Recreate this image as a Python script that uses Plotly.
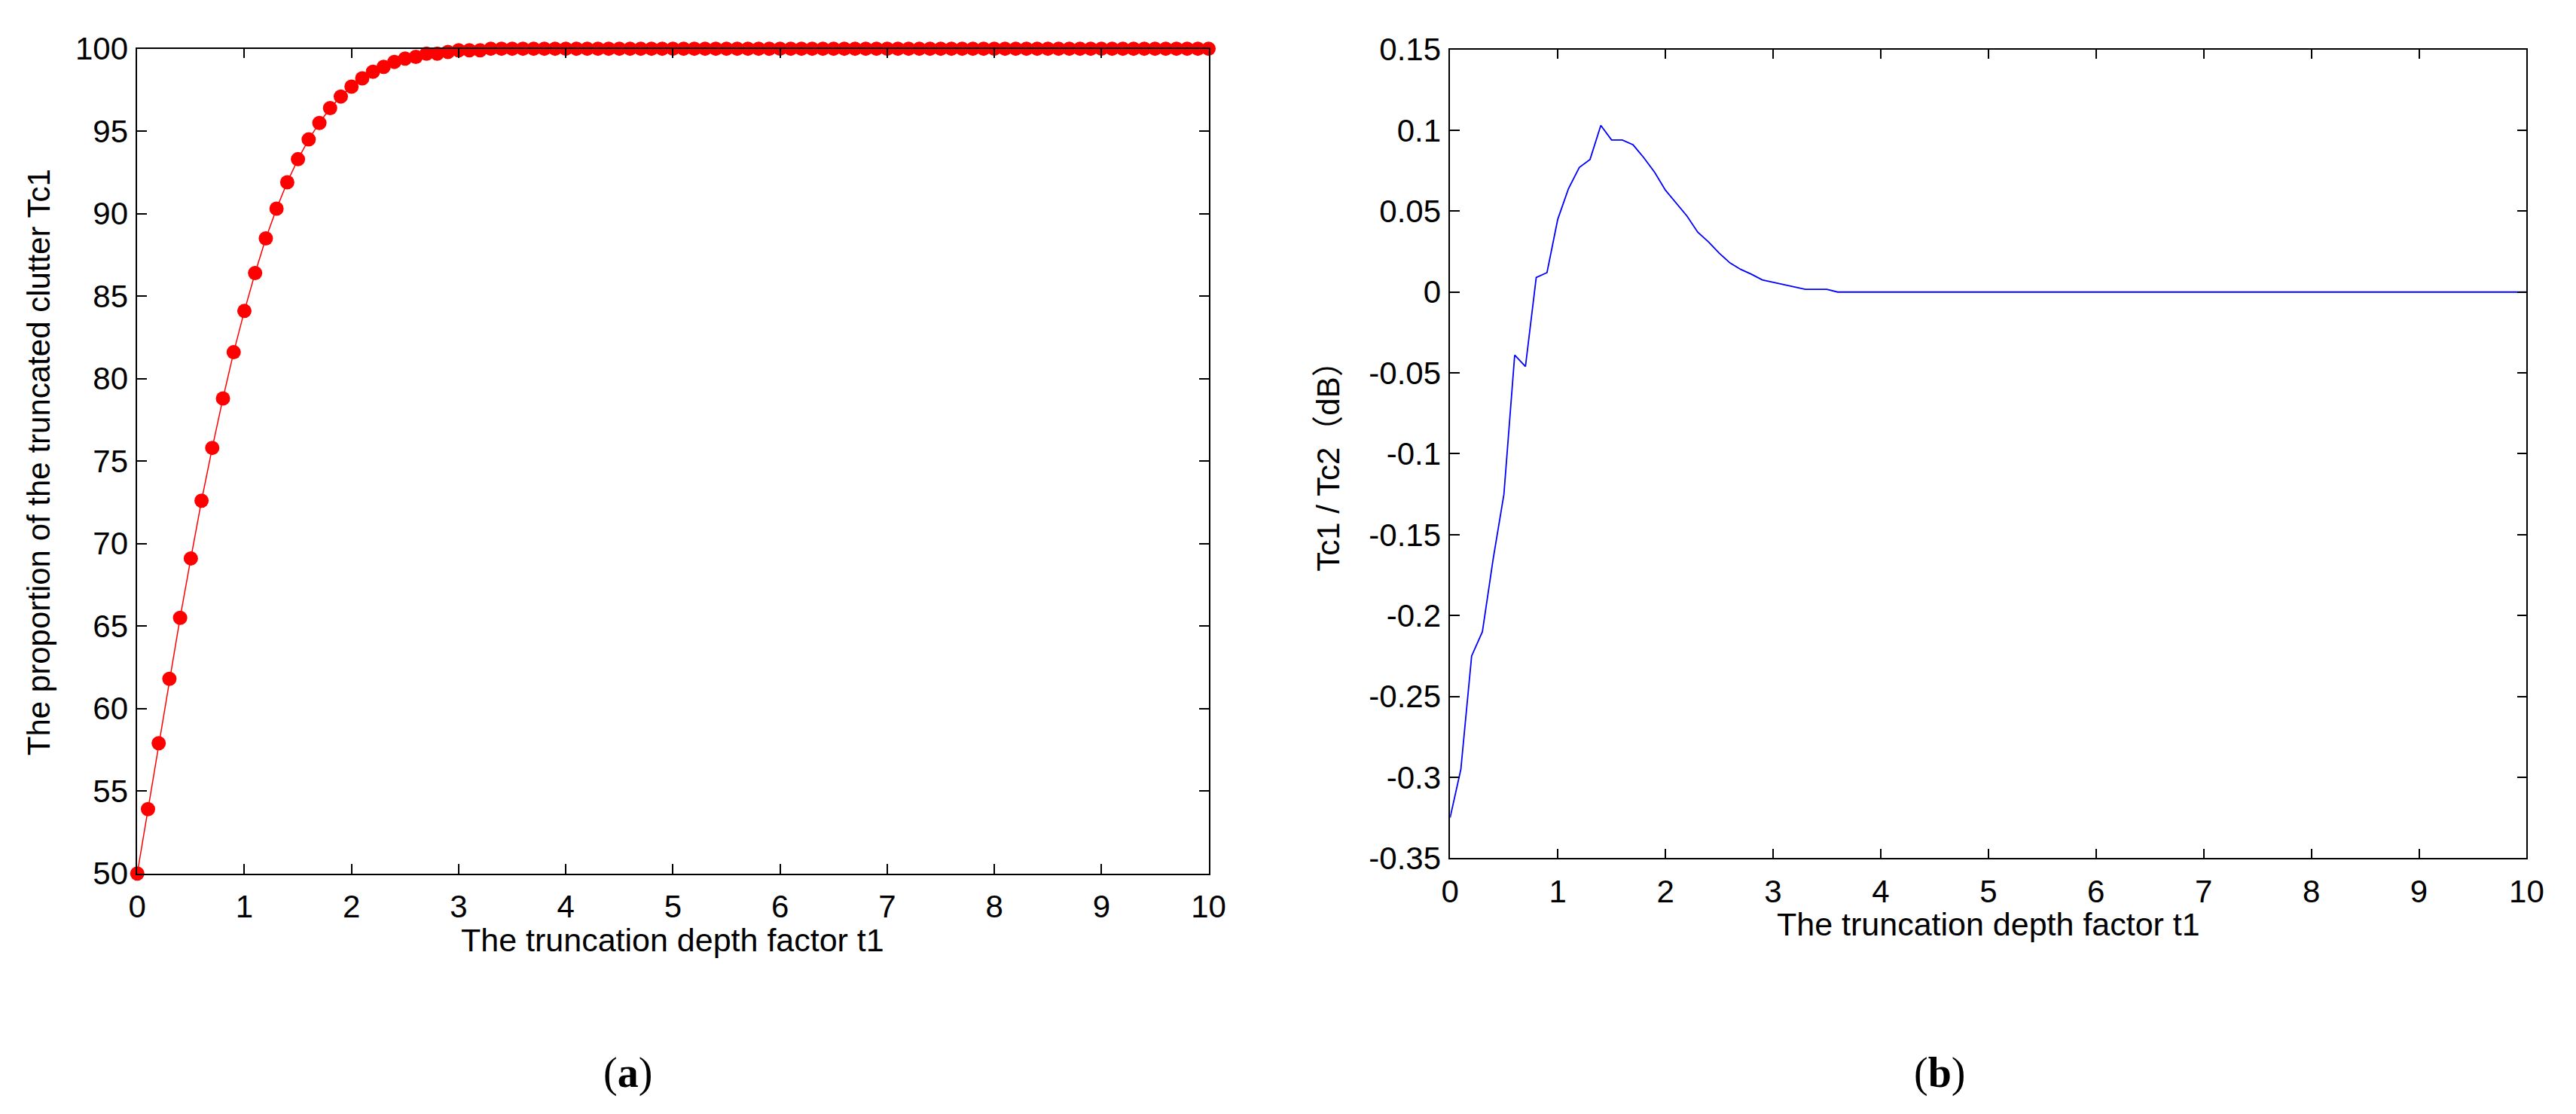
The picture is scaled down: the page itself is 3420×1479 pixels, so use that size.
import plotly.graph_objects as go

# ---------------- data ----------------
t_values = [round(0.1 * i, 1) for i in range(101)]

tc1_proportion = [
    50.0, 53.9, 57.9, 61.8, 65.5, 69.1, 72.6, 75.8, 78.8, 81.6,
    84.1, 86.4, 88.5, 90.3, 91.9, 93.3, 94.5, 95.5, 96.4, 97.1,
    97.7, 98.2, 98.6, 98.9, 99.2, 99.4, 99.5, 99.7, 99.7, 99.8,
    99.9, 99.9, 99.9, 100.0, 100.0, 100.0, 100.0, 100.0, 100.0, 100.0,
    100.0, 100.0, 100.0, 100.0, 100.0, 100.0, 100.0, 100.0, 100.0, 100.0,
    100.0, 100.0, 100.0, 100.0, 100.0, 100.0, 100.0, 100.0, 100.0, 100.0,
    100.0, 100.0, 100.0, 100.0, 100.0, 100.0, 100.0, 100.0, 100.0, 100.0,
    100.0, 100.0, 100.0, 100.0, 100.0, 100.0, 100.0, 100.0, 100.0, 100.0,
    100.0, 100.0, 100.0, 100.0, 100.0, 100.0, 100.0, 100.0, 100.0, 100.0,
    100.0, 100.0, 100.0, 100.0, 100.0, 100.0, 100.0, 100.0, 100.0, 100.0,
    100.0,
]

tc_ratio_db = [
    -0.325, -0.295, -0.225, -0.210, -0.165, -0.125, -0.039, -0.046, 0.009, 0.012,
    0.045, 0.064, 0.077, 0.082, 0.103, 0.094, 0.094, 0.091, 0.083, 0.074,
    0.063, 0.055, 0.047, 0.037, 0.031, 0.024, 0.018, 0.014, 0.011, 0.0075,
    0.006, 0.0045, 0.003, 0.0017, 0.0017, 0.0017, 0.0, 0.0, 0.0, 0.0,
    0.0, 0.0, 0.0, 0.0, 0.0, 0.0, 0.0, 0.0, 0.0, 0.0,
    0.0, 0.0, 0.0, 0.0, 0.0, 0.0, 0.0, 0.0, 0.0, 0.0,
    0.0, 0.0, 0.0, 0.0, 0.0, 0.0, 0.0, 0.0, 0.0, 0.0,
    0.0, 0.0, 0.0, 0.0, 0.0, 0.0, 0.0, 0.0, 0.0, 0.0,
    0.0, 0.0, 0.0, 0.0, 0.0, 0.0, 0.0, 0.0, 0.0, 0.0,
    0.0, 0.0, 0.0, 0.0, 0.0, 0.0, 0.0, 0.0, 0.0, 0.0,
    0.0,
]

x_ticks = [0, 1, 2, 3, 4, 5, 6, 7, 8, 9, 10]
x_ticktext = ["0", "1", "2", "3", "4", "5", "6", "7", "8", "9", "10"]
y1_ticks = [50, 55, 60, 65, 70, 75, 80, 85, 90, 95, 100]
y1_ticktext = ["50", "55", "60", "65", "70", "75", "80", "85", "90", "95", "100"]
y2_ticks = [-0.35, -0.3, -0.25, -0.2, -0.15, -0.1, -0.05, 0, 0.05, 0.1, 0.15]
y2_ticktext = ["-0.35", "-0.3", "-0.25", "-0.2", "-0.15", "-0.1", "-0.05", "0", "0.05", "0.1", "0.15"]

xlabel = "The truncation depth factor t1"
ylabel_a = "The proportion of the truncated clutter Tc1"
ylabel_b = "Tc1 / Tc2\uff08dB\uff09"

# ---------------- figure ----------------
W, H = 3420, 1479
FONT = "Liberation Sans, Arial, Noto Sans CJK SC, sans-serif"
SERIF = "Liberation Serif, Times New Roman, serif"

fig = go.Figure()
fig.add_trace(go.Scatter(
    x=t_values, y=tc1_proportion, mode="lines+markers",
    line=dict(color="#ff0000", width=1.5),
    marker=dict(color="#ff0000", size=19),
    cliponaxis=False, xaxis="x", yaxis="y", showlegend=False,
))
fig.add_trace(go.Scatter(
    x=t_values, y=tc_ratio_db, mode="lines",
    line=dict(color="#0000ff", width=1.8),
    xaxis="x2", yaxis="y2", showlegend=False,
))

def px_dom_x(a, b):
    return [a / W, b / W]

def px_dom_y(top, bottom):
    return [1 - bottom / H, 1 - top / H]

axis_common = dict(
    showline=True, linecolor="black", linewidth=1.5, mirror="ticks",
    ticks="inside", ticklen=13, tickwidth=1.5, tickcolor="black",
    showgrid=False, zeroline=False,
    tickfont=dict(family=FONT, size=42, color="black"),
)

fig.update_layout(
    width=W, height=H,
    margin=dict(l=0, r=0, t=0, b=0),
    paper_bgcolor="white", plot_bgcolor="white",
    xaxis=dict(domain=px_dom_x(172, 1609), range=[0, 10], tickvals=x_ticks,
               ticktext=x_ticktext, anchor="y", ticklabelstandoff=6, **axis_common),
    yaxis=dict(domain=px_dom_y(43, 1174), range=[50, 100], tickvals=y1_ticks,
               ticktext=y1_ticktext, anchor="x", ticklabelstandoff=2, **axis_common),
    xaxis2=dict(domain=px_dom_x(1933, 3377), range=[0, 10], tickvals=x_ticks,
                ticktext=x_ticktext, anchor="y2", ticklabelstandoff=6, **axis_common),
    yaxis2=dict(domain=px_dom_y(44, 1153), range=[-0.35, 0.15], tickvals=y2_ticks,
                ticktext=y2_ticktext, anchor="x2", ticklabelstandoff=2, **axis_common),
)

def note(text, x, y, size=40, family=FONT, angle=0):
    fig.add_annotation(
        text=text, x=x / W, y=1 - y / H, xref="paper", yref="paper",
        xanchor="center", yanchor="middle", showarrow=False, textangle=angle,
        font=dict(family=family, size=size, color="black"),
    )

note(xlabel, 890, 1265, size=43)
note(xlabel, 2655, 1244, size=43)
note(ylabel_a, 40, 610, size=42, angle=-90)
note(ylabel_b, 1770, 605, size=42, angle=-90)
note("(<b>a</b>)", 830, 1448, size=56, family=SERIF)
note("(<b>b</b>)", 2590, 1448, size=56, family=SERIF)

fig.write_html(
    "out.html",
    config={"displayModeBar": False},
    post_script="document.body.style.margin='0';document.body.style.overflow='hidden';",
)
